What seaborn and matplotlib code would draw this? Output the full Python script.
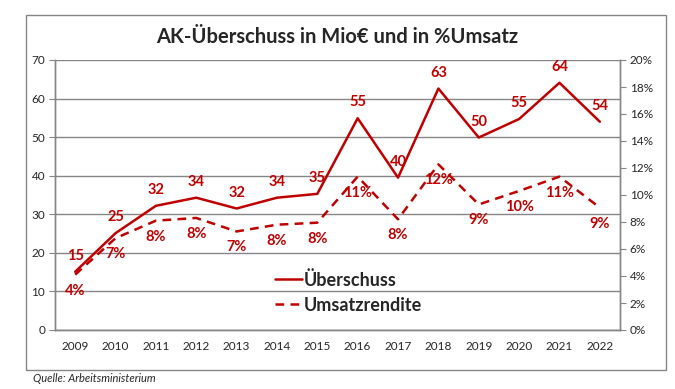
import numpy as np
import pandas as pd
import seaborn as sns
import matplotlib.pyplot as plt
from matplotlib.patches import Rectangle
from matplotlib.ticker import FuncFormatter, FixedLocator

# Daten
jahre = ['2009', '2010', '2011', '2012', '2013', '2014', '2015',
         '2016', '2017', '2018', '2019', '2020', '2021', '2022']
ueberschuss = [15.1, 25.1, 32.2, 34.3, 31.5, 34.3, 35.3,
               54.9, 39.5, 62.6, 49.9, 54.7, 64.1, 54.0]
umsatzrendite = [4.1, 6.8, 8.1, 8.3, 7.3, 7.8, 7.95,
                 11.36, 8.2, 12.27, 9.3, 10.3, 11.36, 9.06]

rot = '#C00000'
grau = '#868686'

sns.set_style('white')
plt.rcParams['font.family'] = ['Lato', 'DejaVu Sans']

df = pd.DataFrame({'x': np.arange(len(jahre)), 'ue': ueberschuss, 'um': umsatzrendite})

fig = plt.figure(figsize=(6.75, 3.89), dpi=100)
ax = fig.add_axes([55 / 675, 1 - 330 / 389, 565 / 675, 270 / 389])
ax2 = ax.twinx()

sns.lineplot(data=df, x='x', y='ue', ax=ax, color=rot, lw=1.8, label='Überschuss', legend=False)
sns.lineplot(data=df, x='x', y='um', ax=ax2, color=rot, lw=1.8, linestyle=(0, (3.5, 2.5)),
             label='Umsatzrendite', legend=False)

ax.set_xlim(-0.5, len(jahre) - 0.5)
ax.set_ylim(0, 70)
ax2.set_ylim(0, 20)
ax.set_yticks(range(0, 71, 10))
ax2.set_yticks(range(0, 21, 2))
ax2.yaxis.set_major_formatter(FuncFormatter(lambda v, p: f'{v:.0f}%'))
ax.set_xticks(range(len(jahre)))
ax.set_xticklabels(jahre)
ax.xaxis.set_minor_locator(FixedLocator(np.arange(-0.5, len(jahre), 1.0)))
ax.tick_params(axis='x', which='major', length=0, pad=8, labelsize=8.5, colors='#262626')
ax.tick_params(axis='x', which='minor', length=4, color=grau, direction='out')
ax.tick_params(axis='y', length=4, color=grau, direction='out', labelsize=8.5, colors='#262626', pad=3)
ax2.tick_params(axis='y', length=4, color=grau, direction='out', labelsize=8.5, colors='#262626', pad=3)
ax.set_xlabel('')
ax.set_ylabel('')
ax2.set_ylabel('')

ax.grid(axis='y', color=grau, lw=1)
ax.set_axisbelow(True)
for a in (ax, ax2):
    a.spines['top'].set_visible(False)
    for s in ('left', 'right', 'bottom'):
        a.spines[s].set_color(grau)
        a.spines[s].set_linewidth(1)

# Datenbeschriftungen
for i, v in enumerate(ueberschuss):
    ax.annotate(f'{int(np.floor(v + 0.5))}', (i, v), xytext=(0, 11.5), textcoords='offset points',
                ha='center', va='center', color=rot, fontsize=10.5, fontweight='bold')
for i, v in enumerate(umsatzrendite):
    ax2.annotate(f'{int(np.floor(v + 0.5))}%', (i, v), xytext=(0, -11.5), textcoords='offset points',
                 ha='center', va='center', color=rot, fontsize=10.5, fontweight='bold')

h1, l1 = ax.get_legend_handles_labels()
h2, l2 = ax2.get_legend_handles_labels()
leg = ax2.legend(h1 + h2, l1 + l2, loc='lower left', bbox_to_anchor=(0.36, 0.0), frameon=False,
                 prop={'size': 13, 'weight': 'bold'}, handlelength=1.5, handletextpad=0.1,
                 labelspacing=0.45)

fig.text(0.5, 1 - 37 / 389, 'AK-Überschuss in Mio€ und in %Umsatz', ha='center', va='center',
         fontsize=14.5, fontweight='bold')
fig.text(33 / 675, 1 - 378 / 389, 'Quelle: Arbeitsministerium', ha='left', va='center',
         fontsize=8, style='italic')
fig.patches.append(Rectangle((26 / 675, 1 - 370 / 389), 640 / 675, 355 / 389,
                             transform=fig.transFigure, fill=False, edgecolor=grau, lw=1))

fig.savefig('out.png', dpi=100)
